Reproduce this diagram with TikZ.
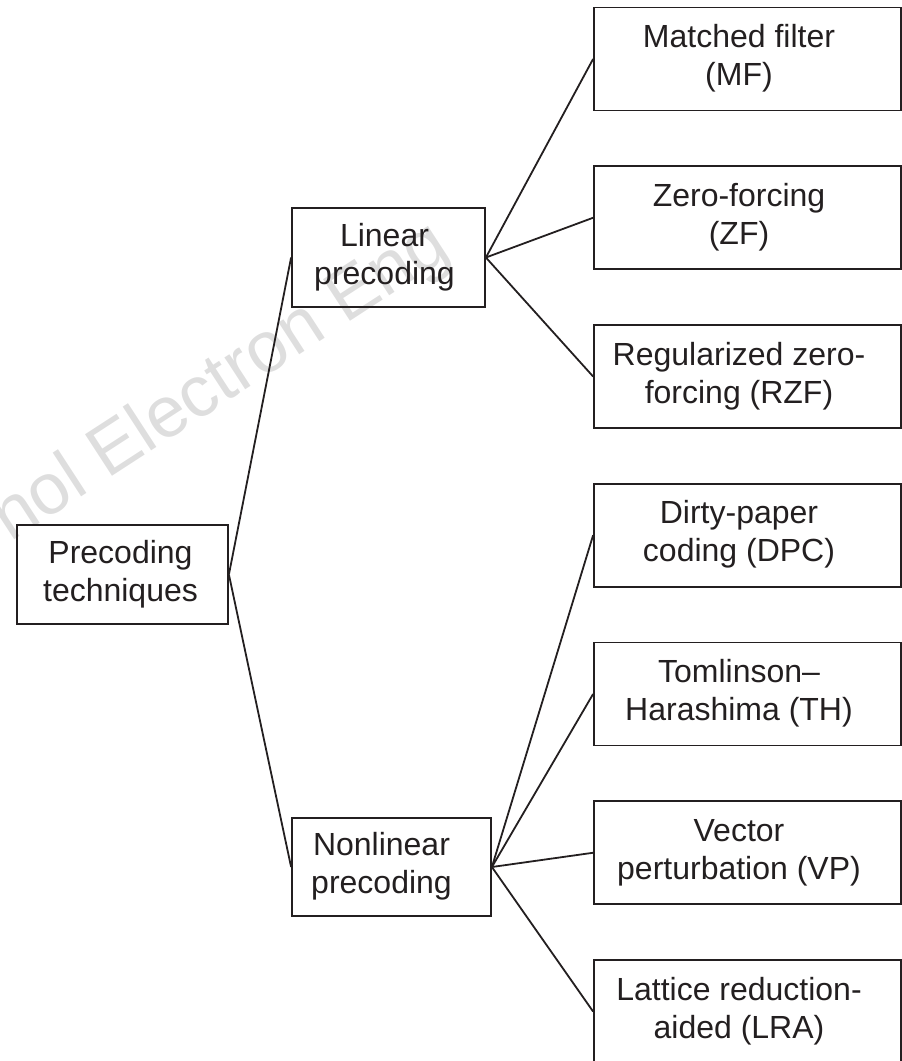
\documentclass[tikz,border=0pt]{standalone}
\usepackage{fontspec}
\setmainfont{Liberation Sans}
\definecolor{ink}{HTML}{231F20}
\definecolor{wm}{HTML}{DEDEDE}
\newcommand\boxtext[2]{\begin{tabular}{@{}c@{}}#2\end{tabular}\kern#1pt\relax}
\begin{document}
\begin{tikzpicture}[x=1pt,y=-1pt,
  box/.style={draw=ink, line width=1.8pt, inner sep=0pt, text=ink,
    font=\fontsize{32}{38}\selectfont},
  rbox/.style={box, minimum width=307pt, minimum height=103pt},
  link/.style={draw=ink, line width=1.8pt}]
\useasboundingbox (0,0) rectangle (902,1061);
% watermark
\node[text=wm, font=\fontsize{72}{80}\selectfont, rotate=33, anchor=base west, inner sep=0pt] (wmk) at (10,543) {nol Electron Eng};
% boxes
\node[box, minimum width=211pt, minimum height=99pt] (pre) at (122.5,574.5) {\boxtext{4}{Precoding\\techniques}};
\node[box, minimum width=193pt, minimum height=99pt] (lin) at (388.5,257.5) {\boxtext{8}{Linear\\precoding}};
\node[box, minimum width=199pt, minimum height=98pt] (non) at (391.5,867) {\boxtext{20}{Nonlinear\\precoding}};
\node[rbox] (mf) at (747.5,59) {\boxtext{17}{Matched filter\\(MF)}};
\node[rbox] (zf) at (747.5,217.75) {\boxtext{17}{Zero-forcing\\(ZF)}};
\node[rbox] (rzf) at (747.5,376.5) {\boxtext{17}{Regularized zero-\\forcing (RZF)}};
\node[rbox] (dpc) at (747.5,535.25) {\boxtext{17}{Dirty-paper\\coding (DPC)}};
\node[rbox] (th) at (747.5,694) {\boxtext{17}{Tomlinson–\\Harashima (TH)}};
\node[rbox] (vp) at (747.5,852.75) {\boxtext{17}{Vector\\perturbation (VP)}};
\node[rbox] (lra) at (747.5,1011.5) {\boxtext{17}{Lattice reduction-\\aided (LRA)}};
% connectors
\draw[link] (pre.east) -- (lin.west);
\draw[link] (pre.east) -- (non.west);
\draw[link] (lin.east) -- (mf.west);
\draw[link] (lin.east) -- (zf.west);
\draw[link] (lin.east) -- (rzf.west);
\draw[link] (non.east) -- (dpc.west);
\draw[link] (non.east) -- (th.west);
\draw[link] (non.east) -- (vp.west);
\draw[link] (non.east) -- (lra.west);
\end{tikzpicture}
\end{document}
